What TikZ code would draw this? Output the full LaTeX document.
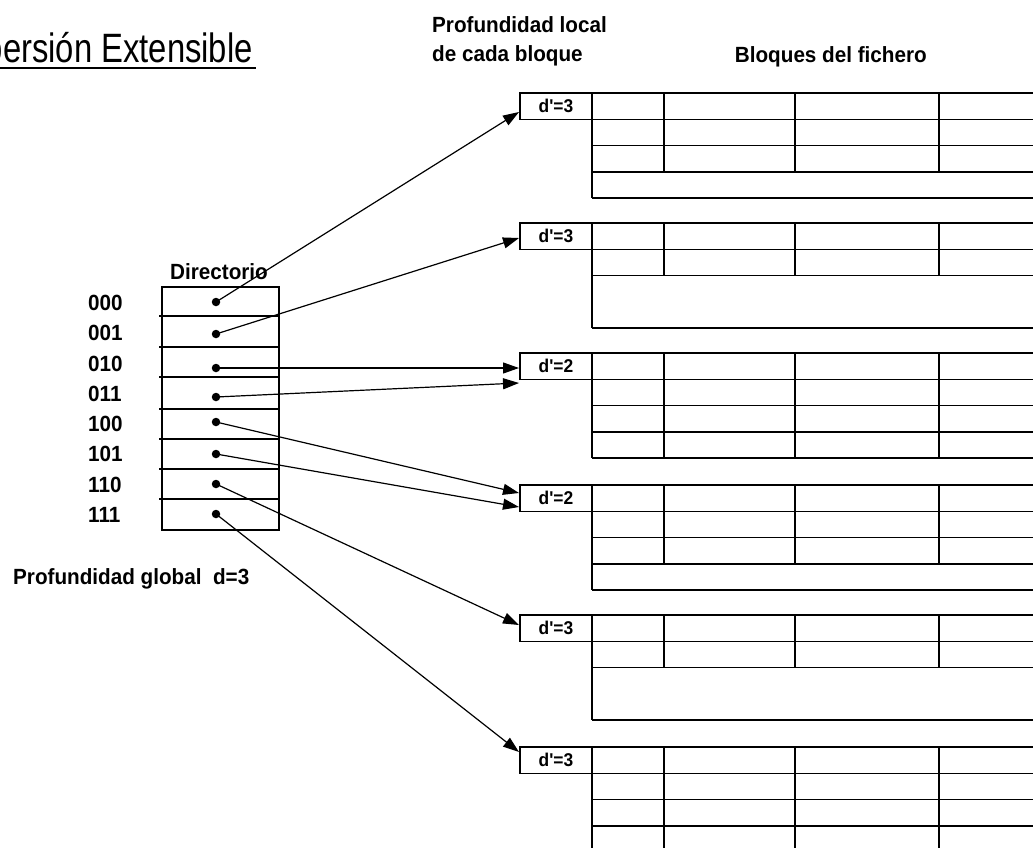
\documentclass[tikz,border=0pt]{standalone}
\usepackage{fontspec}
\setmainfont{Liberation Sans}
\newfontfamily\titlefont[FakeStretch=0.8]{Liberation Sans}
\newfontfamily\labfont[FakeStretch=0.94]{Liberation Sans}
\usetikzlibrary{arrows.meta}
\newcommand\fichblock[4]{%
  \node[dbox, anchor=north west] (#1) at (520,#2) {d\symbol{39}=#4};
  \draw[grid] (592,#2) -- (1040,#2);
  \foreach \k in {1,...,#3} \draw[grid] (592,{#2+\k*26.3}) -- (1040,{#2+\k*26.3});
  \draw[grid] (592,{#2+4*26.3}) -- (1040,{#2+4*26.3});
  \draw[grid] (592,#2) -- (592,{#2+4*26.3});
  \foreach \xx in {664,795,939} \draw[grid] (\xx,#2) -- (\xx,{#2+#3*26.3});
}
\begin{document}
\begin{tikzpicture}[x=1pt,y=-1pt,
  lbl/.style={font=\labfont\fontsize{22}{26}\selectfont\bfseries, inner sep=0pt, anchor=base west},
  dbox/.style={draw, line width=1.5pt, minimum width=72pt, minimum height=26.3pt, inner sep=0pt, outer sep=0pt, font=\labfont\fontsize{18.5}{21}\selectfont\bfseries},
  grid/.style={line width=1.5pt},
  ptr/.style={-{Triangle[length=16pt,width=11pt]}, line width=1.2pt},
  dot/.style={circle, fill, inner sep=0pt, minimum size=8.5pt}]
\useasboundingbox (0,0) rectangle (1033,847);

% title
\node[anchor=base east, inner sep=0pt, font=\titlefont\fontsize{41}{45}\selectfont] (title) at (253,62) {Dispersión Extensible};
\draw[line width=2.5pt] (0,68) -- (256,68);

% headings
\node[lbl] (hloc1) at (432,32) {Profundidad local};
\node[lbl] (hloc2) at (432,61) {de cada bloque};
\node[lbl, anchor=base east] (hblq) at (927,62) {Bloques del fichero};
\node[lbl] (hdir) at (170,279) {Directorio};
\node[lbl] (hglob) at (13,584) {Profundidad global\ \ d=3};

% directory
\draw[grid] (162,287) rectangle (279,530);
\foreach \y in {316,347,377,409,439,469,499} \draw[grid] (159,\y) -- (279,\y);

\node[lbl] (k0) at (88,310.5) {000};
\node[lbl] (k1) at (88,340.5) {001};
\node[lbl] (k2) at (88,371.5) {010};
\node[lbl] (k3) at (88,401.5) {011};
\node[lbl] (k4) at (88,431.5) {100};
\node[lbl] (k5) at (88,461.5) {101};
\node[lbl] (k6) at (88,492.5) {110};
\node[lbl] (k7) at (88,522.5) {111};

\node[dot] (p0) at (216,302) {};
\node[dot] (p1) at (216,334) {};
\node[dot] (p2) at (216,368) {};
\node[dot] (p3) at (216,397) {};
\node[dot] (p4) at (216,422) {};
\node[dot] (p5) at (216,454) {};
\node[dot] (p6) at (216,484) {};
\node[dot] (p7) at (216,514) {};

% blocks
\fichblock{b1}{93}{3}{3}
\fichblock{b2}{223}{2}{3}
\fichblock{b3}{353}{4}{2}
\fichblock{b4}{485}{3}{2}
\fichblock{b5}{615}{2}{3}
\fichblock{b6}{747}{4}{3}

% arrow targets
\coordinate (t1) at (519,112);
\coordinate (t2) at (519,238);
\coordinate (t3a) at (519,368);
\coordinate (t3b) at (519,383);
\coordinate (t4a) at (519,493);
\coordinate (t4b) at (519,507);
\coordinate (t5) at (519,625);
\coordinate (t6) at (519,752);

\draw[ptr] (p0.center) -- (t1);
\draw[ptr] (p1.center) -- (t2);
\draw[ptr] (p2.center) -- (t3a);
\draw[ptr] (p3.center) -- (t3b);
\draw[ptr] (p4.center) -- (t4a);
\draw[ptr] (p5.center) -- (t4b);
\draw[ptr] (p6.center) -- (t5);
\draw[ptr] (p7.center) -- (t6);
\end{tikzpicture}
\end{document}
